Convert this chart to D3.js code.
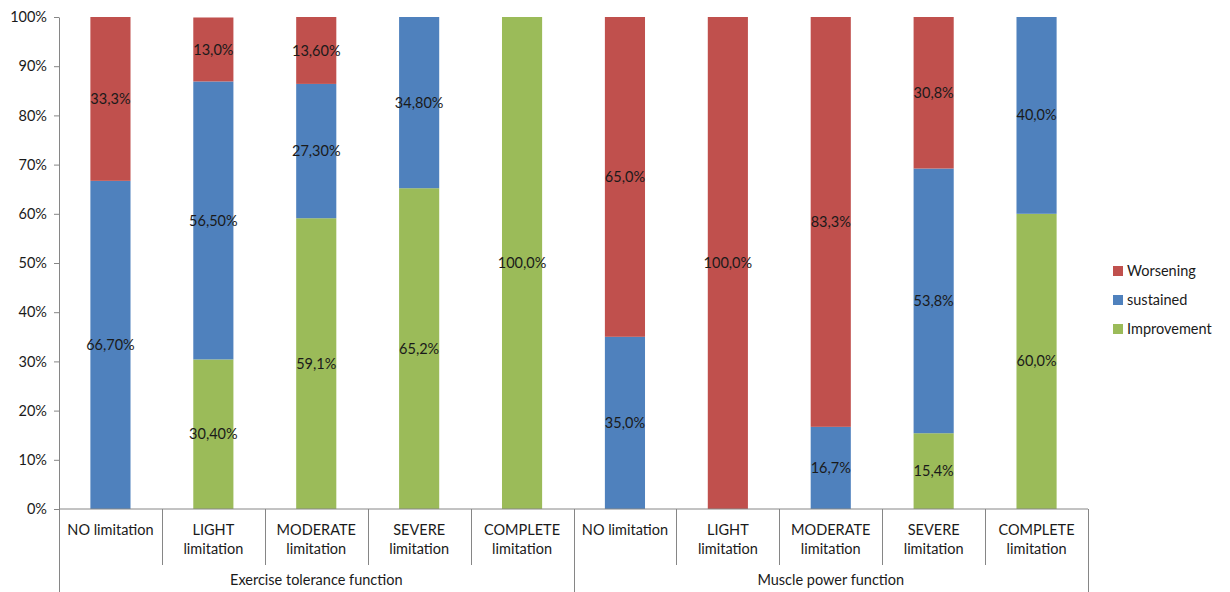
<!DOCTYPE html>
<html>
<head>
<meta charset="utf-8">
<script src="https://cdn.jsdelivr.net/npm/d3@7"></script>
<style>
  body { margin: 0; background: #fff; }
  text { font-family: Lato, "Open Sans", sans-serif; }
</style>
</head>
<body>
<div id="chart"></div>
<script>
// categories (two groups of five)
const groups = ["Exercise tolerance function", "Muscle power function"];
const levels = [["NO limitation"], ["LIGHT", "limitation"], ["MODERATE", "limitation"], ["SEVERE", "limitation"], ["COMPLETE", "limitation"]];
const seriesNames = ["Improvement", "sustained", "Worsening"];

// values per category, in the order group 1 then group 2
const improvement = [0, 30.4, 59.1, 65.2, 100, 0, 0, 0, 15.4, 60.0];
const sustained   = [66.7, 56.5, 27.3, 34.8, 0, 35.0, 0, 16.7, 53.8, 40.0];
const worsening   = [33.3, 13.0, 13.6, 0, 0, 65.0, 100, 83.3, 30.8, 0];

// labels as printed on the chart ("" = no label)
const improvementLabels = ["", "30,40%", "59,1%", "65,2%", "100,0%", "", "", "", "15,4%", "60,0%"];
const sustainedLabels   = ["66,70%", "56,50%", "27,30%", "34,80%", "", "35,0%", "", "16,7%", "53,8%", "40,0%"];
const worseningLabels   = ["33,3%", "13,0%", "13,60%", "", "", "65,0%", "100,0%", "83,3%", "30,8%", ""];

const yTicks = [0, 10, 20, 30, 40, 50, 60, 70, 80, 90, 100];
const colors = { Improvement: "#9BBB59", sustained: "#4F81BD", Worsening: "#C0504D" };

const W = 1230, H = 592;
const margin = { left: 59, right: 1088, top: 17, bottom: 509 };
const fs = 14.5;

const svg = d3.select("#chart").append("svg")
  .attr("width", W).attr("height", H);

const keys = d3.range(groups.length * levels.length);
const x = d3.scaleBand().domain(keys).range([margin.left, margin.right]).padding(0);
const y = d3.scaleLinear().domain([0, 100]).range([margin.bottom, margin.top]);
const barW = x.bandwidth() * 0.39;

// build table for stacking
const table = keys.map(i => ({
  key: i,
  Improvement: improvement[i], sustained: sustained[i], Worsening: worsening[i],
  labels: { Improvement: improvementLabels[i], sustained: sustainedLabels[i], Worsening: worseningLabels[i] }
}));
const stacked = d3.stack().keys(seriesNames)(table);

// bars
stacked.forEach(layer => {
  svg.append("g").selectAll("rect")
    .data(layer.filter(d => d[1] - d[0] > 0))
    .enter().append("rect")
    .attr("x", d => x(d.data.key) + (x.bandwidth() - barW) / 2)
    .attr("y", d => y(d[1]))
    .attr("width", barW)
    .attr("height", d => y(d[0]) - y(d[1]))
    .attr("fill", colors[layer.key]);
});

// value labels
stacked.forEach(layer => {
  svg.append("g").selectAll("text")
    .data(layer.filter(d => d.data.labels[layer.key] !== ""))
    .enter().append("text")
    .attr("x", d => x(d.data.key) + x.bandwidth() / 2)
    .attr("y", d => y((d[0] + d[1]) / 2))
    .attr("dy", "0.35em")
    .attr("text-anchor", "middle")
    .attr("font-size", fs)
    .attr("fill", "#1a1a1a")
    .text(d => d.data.labels[layer.key]);
});

// y axis
const yAxis = svg.append("g")
  .attr("transform", `translate(${margin.left},0)`)
  .call(d3.axisLeft(y).tickValues(yTicks).tickFormat(d => d + "%").tickSize(5).tickSizeOuter(0));
yAxis.select(".domain").attr("stroke", "#868686");
yAxis.selectAll(".tick line").attr("stroke", "#868686");
yAxis.selectAll(".tick text").attr("font-size", fs).attr("fill", "#1a1a1a")
  .attr("font-family", "Lato, 'Open Sans', sans-serif").attr("x", -12);

// x axis line
svg.append("line")
  .attr("x1", margin.left).attr("x2", margin.right).attr("y1", margin.bottom).attr("y2", margin.bottom)
  .attr("stroke", "#868686");

// category separators
keys.concat([keys.length]).forEach(i => {
  const xx = i < keys.length ? x(i) : margin.right;
  const isGroupEdge = i % levels.length === 0;
  svg.append("line")
    .attr("x1", Math.round(xx) + 0.5).attr("x2", Math.round(xx) + 0.5)
    .attr("y1", margin.bottom).attr("y2", isGroupEdge ? H : 565)
    .attr("stroke", "#868686");
});

// category labels
keys.forEach(i => {
  const lines = levels[i % levels.length];
  const t = svg.append("text")
    .attr("x", x(i) + x.bandwidth() / 2)
    .attr("y", 535)
    .attr("text-anchor", "middle")
    .attr("font-size", fs)
    .attr("fill", "#1a1a1a");
  lines.forEach((ln, j) => {
    t.append("tspan").attr("x", x(i) + x.bandwidth() / 2).attr("dy", j === 0 ? 0 : 19).text(ln);
  });
});

// group labels
groups.forEach((g, gi) => {
  const x0 = x(gi * levels.length);
  const x1 = gi === groups.length - 1 ? margin.right : x((gi + 1) * levels.length);
  svg.append("text")
    .attr("x", (x0 + x1) / 2).attr("y", 585)
    .attr("text-anchor", "middle")
    .attr("font-size", fs)
    .attr("fill", "#1a1a1a")
    .text(g);
});

// legend (top to bottom: Worsening, sustained, Improvement)
const legendOrder = seriesNames.slice().reverse();
const legend = svg.append("g").attr("transform", "translate(1113,271)");
legendOrder.forEach((name, i) => {
  const gy = i * 29;
  legend.append("rect").attr("x", 0).attr("y", gy - 5).attr("width", 10).attr("height", 10).attr("fill", colors[name]);
  legend.append("text").attr("x", 14).attr("y", gy).attr("dy", "0.35em")
    .attr("font-size", fs).attr("fill", "#1a1a1a").text(name);
});
</script>
</body>
</html>
